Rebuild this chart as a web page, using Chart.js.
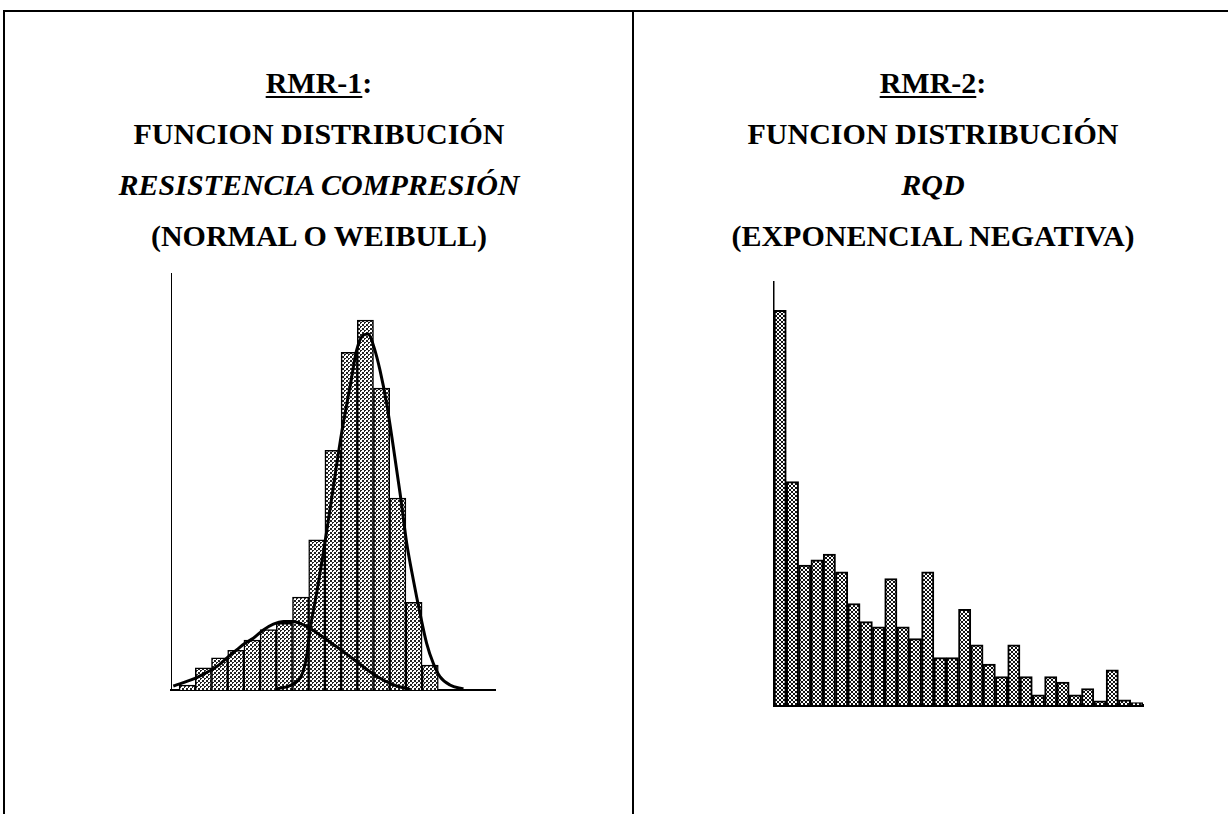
<!DOCTYPE html>
<html lang="es">
<head>
<meta charset="utf-8">
<title>RMR - funciones de distribución</title>
<script src="https://cdn.jsdelivr.net/npm/chart.js@4.4.1/dist/chart.umd.min.js"></script>
<style>
  html, body { margin: 0; padding: 0; background: #fff; }
  body {
    width: 1228px; height: 814px; overflow: hidden; position: relative;
    font-family: "Liberation Serif", "Times New Roman", serif; color: #000;
  }
  .tabla {
    position: absolute; left: 3px; top: 10px; width: 1230px; height: 830px;
    border-top: 2px solid #000; border-left: 2px solid #000;
  }
  .divisor { position: absolute; left: 632px; top: 10px; width: 2px; height: 830px; background: #000; }
  .titulo {
    position: absolute; top: 57px; width: 620px; text-align: center;
    font-weight: bold; font-size: 30px; line-height: 51px;
  }
  .titulo u { text-decoration-thickness: 2px; text-underline-offset: 3px; }
  .titulo i { font-style: italic; }
  #titulo-rc { left: 9px; }
  #titulo-rqd { left: 623px; }
  canvas { position: absolute; }
  #graf-rc { left: 166px; top: 268px; }
  #graf-rqd { left: 769px; top: 277px; }
</style>
</head>
<body>
<div class="tabla"></div>
<div class="divisor"></div>

<div class="titulo" id="titulo-rc">
  <div><u>RMR-1</u>:</div>
  <div>FUNCION DISTRIBUCIÓN</div>
  <div><i>RESISTENCIA COMPRESIÓN</i></div>
  <div>(NORMAL O WEIBULL)</div>
</div>
<div class="titulo" id="titulo-rqd">
  <div><u>RMR-2</u>:</div>
  <div>FUNCION DISTRIBUCIÓN</div>
  <div><i>RQD</i></div>
  <div>(EXPONENCIAL NEGATIVA)</div>
</div>

<canvas id="graf-rc" width="334" height="427"></canvas>
<canvas id="graf-rqd" width="379" height="433"></canvas>

<script>
// RMR-1: histograma de resistencia a compresión (clase -> frecuencia relativa)
const clasesRc = [1, 2, 3, 4, 5, 6, 7, 8, 9, 10, 11, 12, 13, 14, 15, 16];
const frecRc = [1.2, 5.3, 7.7, 9.5, 12, 14.5, 16, 22.3, 36, 57.5, 81, 88.7, 72.4, 46, 21, 6];

// curva ancha (población de menor resistencia)
const anchaX = [0.14, 0.76, 1.48, 2.1, 2.82, 3.54, 4.05, 4.57, 5.08, 5.7, 6.32, 6.93,
  7.55, 8.07, 8.58, 9.2, 9.92, 10.64, 11.46, 12.28, 13.1, 13.93, 14.75];
const anchaY = [0.96, 1.76, 2.8, 4.0, 5.6, 8.0, 9.6, 11.2, 12.4, 14.4, 15.8, 16.4,
  16.4, 15.8, 14.8, 13.2, 11.2, 9.2, 6.8, 4.4, 2.4, 0.96, 0.16];

// curva estrecha (población principal)
const estrechaX = [6.52, 7.55, 8.07, 8.37, 8.58, 8.99, 9.4, 9.81, 10.53, 11.05, 11.46, 11.87,
  12.18, 12.49, 12.9, 13.31, 13.72, 14.14, 14.55, 14.96, 15.37, 15.78, 16.19, 16.6, 17.22, 18.05];
const estrechaY = [0.24, 1.44, 3.6, 8.0, 14.4, 23.2, 32.8, 43.2, 61.6, 72.7, 81.5, 85.1,
  85.4, 82.7, 76.7, 68.7, 58.4, 47.2, 35.2, 26.4, 18.4, 11.2, 6.4, 3.2, 1.2, 0.24];

// RMR-2: histograma de RQD
const clasesRqd = [0.5, 1.5, 2.5, 3.5, 4.5, 5.5, 6.5, 7.5, 8.5, 9.5, 10.5, 11.5, 12.5, 13.5, 14.5,
  15.5, 16.5, 17.5, 18.5, 19.5, 20.5, 21.5, 22.5, 23.5, 24.5, 25.5, 26.5, 27.5, 28.5, 29.5];
const frecRqd = [93.3, 52.8, 33.1, 34.3, 35.7, 31.5, 24.0, 19.7, 18.5, 29.9, 18.5, 15.7, 31.5, 11.2, 11.2,
  22.6, 14.2, 9.7, 6.7, 14.2, 6.7, 2.4, 6.7, 5.4, 2.4, 3.9, 1.0, 8.3, 1.2, 0.6];

// trama punteada tipo fotocopia para rellenar las barras
function trama(tinta, celdas) {
  const c = document.createElement("canvas");
  c.width = 4;
  c.height = 4;
  const g = c.getContext("2d");
  g.fillStyle = "#fff";
  g.fillRect(0, 0, 4, 4);
  g.fillStyle = tinta;
  celdas.forEach(([x, y]) => g.fillRect(x, y, 1, 1));
  return g.createPattern(c, "repeat");
}

const puntosClaros = [[0, 0], [1, 0], [0, 1], [2, 2], [3, 2], [2, 3], [1, 1]];
const puntosOscuros = [[0, 0], [1, 0], [0, 1], [1, 1], [2, 2], [3, 2], [2, 3], [3, 3]];

function puntos(xs, ys) {
  return xs.map((x, i) => ({ x: x, y: ys[i] }));
}

function ejes(xMax, grosorX, grosorY) {
  return {
    x: {
      type: "linear", min: 0, max: xMax, offset: false,
      ticks: { display: false },
      grid: { display: false, drawTicks: false },
      border: { display: true, color: "#000", width: grosorX },
    },
    y: {
      type: "linear", min: 0, max: 100,
      ticks: { display: false },
      grid: { display: false, drawTicks: false },
      border: { display: true, color: "#000", width: grosorY },
    },
  };
}

const opcionesBase = {
  responsive: false,
  animation: false,
  events: [],
  layout: { padding: 5 },
  plugins: { legend: { display: false }, tooltip: { enabled: false } },
};

function curva(xs, ys) {
  return {
    type: "line",
    data: puntos(xs, ys),
    borderColor: "#000",
    borderWidth: 3,
    pointRadius: 0,
    cubicInterpolationMode: "monotone",
    order: 1,
  };
}

new Chart(document.getElementById("graf-rc"), {
  type: "bar",
  data: {
    datasets: [
      curva(anchaX, anchaY),
      curva(estrechaX, estrechaY),
      {
        type: "bar",
        data: puntos(clasesRc, frecRc),
        backgroundColor: trama("#222", puntosClaros),
        borderColor: "#000",
        borderWidth: 1.5,
        borderSkipped: "bottom",
        barPercentage: 1,
        categoryPercentage: 1,
        order: 2,
      },
    ],
  },
  options: { ...opcionesBase, scales: ejes(20, 2, 1) },
});

new Chart(document.getElementById("graf-rqd"), {
  type: "bar",
  data: {
    datasets: [
      {
        data: puntos(clasesRqd, frecRqd),
        backgroundColor: trama("#111", puntosOscuros),
        borderColor: "#000",
        borderWidth: 2,
        borderSkipped: "bottom",
        barPercentage: 1,
        categoryPercentage: 1,
      },
    ],
  },
  options: { ...opcionesBase, scales: ejes(30, 3, 1.5) },
});
</script>
</body>
</html>
